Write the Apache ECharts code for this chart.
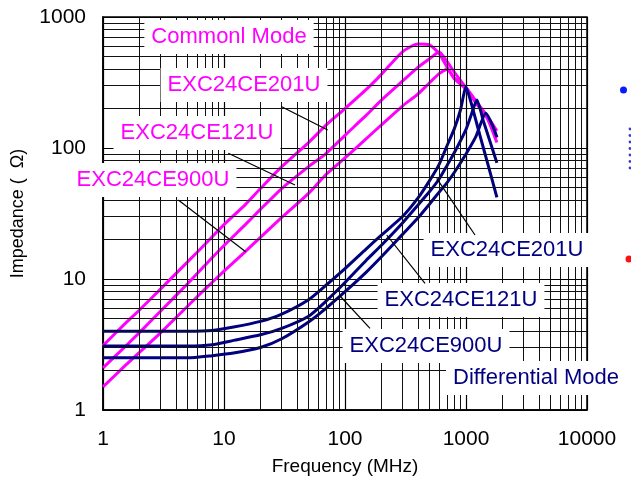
<!DOCTYPE html>
<html>
<head>
<meta charset="utf-8">
<script src="https://cdn.jsdelivr.net/npm/echarts@6/dist/echarts.min.js"></script>
<style>
html,body{margin:0;padding:0;background:#fff;}
#c{width:631px;height:482px;}
</style>
</head>
<body>
<div id="c"></div>
<script>
// ---- data ----
var xTicks = [1, 10, 100, 1000, 10000];
var yTicks = [1, 10, 100, 1000];

// Common mode (magenta)
var cmFreq   = [1,1.5,2,3,5,7,10,15,20,30,50,70,100,150,200,300,400,500,600,700,800,1000,1200,1500,1800];
var cm201U   = [3.1,4.5,5.8,8.4,13.5,18.5,26,37,49,72,110,150,200,280,365,545,622,612,525,412,343,290,230,175,135];
var cm121U   = [2.1,3.0,3.9,5.7,9.2,12.8,18,26,34,49,72,91,125,178,232,325,412,480,540,455,380,288,228,172,120];
var cm900U   = [1.5,2.15,2.75,3.9,6.2,8.4,11.5,16.2,20.8,29.5,45,63,84,118,150,210,258,315,370,400,338,282,222,168,110];

// Differential mode (navy)
var dm201Freq = [1,2,5,8,12,20,30,50,70,100,150,200,300,400,500,600,700,800,900,1000,1100,1300,1500,1800];
var dm201U    = [4.0,4.0,4.0,4.05,4.3,4.75,5.4,6.95,9.0,12.0,17.0,21.6,30.1,41.4,56.4,75,105,140,195,292,223,126,78,42];
var dm121Freq = [1,2,5,8,12,20,30,50,70,100,150,200,300,400,500,600,700,800,1000,1100,1230,1400,1600,1800];
var dm121U    = [3.08,3.08,3.08,3.15,3.4,3.75,4.2,5.2,6.8,9.4,13.9,18.1,26.9,36.6,46.5,58,74,92,139,177,232,158,108,77];
var dm900Freq = [1,2,5,8,12,20,30,50,70,100,150,200,300,400,500,600,700,800,1000,1200,1460,1650,1800];
var dm900U    = [2.5,2.5,2.5,2.6,2.72,3.0,3.5,4.7,6.0,8.0,11.3,14.8,22.0,29.2,37.4,46,54.7,65,90,121,184,150,121];

var seriesNames = ['EXC24CE201U','EXC24CE121U','EXC24CE900U'];

// ---- build ----
function pairs(fs, zs){ return fs.map(function(f,i){ return [f, zs[i]]; }); }

// minor log grid positions (2..9 in each decade)
function minorLines(lo, hi){
  var out = [];
  for (var d = lo; d < hi; d *= 10) for (var k = 2; k <= 9; k++) out.push(d*k);
  return out;
}
var gridMarks = [];
minorLines(1, 10000).forEach(function(v){ gridMarks.push({xAxis: v}); });
minorLines(1, 1000).forEach(function(v){ gridMarks.push({yAxis: v}); });

var FONT = '"Liberation Sans", Arial, Helvetica, sans-serif';
var MAG = '#FF00FF', NAVY = '#000080';

function curve(name, data, color){
  return {
    name: name, type: 'line', data: data, showSymbol: false, symbol: 'none',
    smooth: 0.2, lineStyle: {color: color, width: 3}, itemStyle: {color: color},
    silent: true, animation: false, z: 3
  };
}

var chart = echarts.init(document.getElementById('c'));
var opt = {
  backgroundColor: '#fff',
  animation: false,
  grid: {left: 103, right: 44, top: 17, bottom: 72, show: true, borderColor: '#000', borderWidth: 1.5, backgroundColor: 'transparent'},
  xAxis: {
    type: 'log', logBase: 10, min: xTicks[0], max: xTicks[xTicks.length-1],
    name: 'Frequency (MHz)', nameLocation: 'middle', nameGap: 47,
    nameTextStyle: {fontFamily: FONT, fontSize: 19, color: '#000'},
    axisLine: {show: true, lineStyle: {color: '#000', width: 1.5}},
    axisTick: {show: false},
    axisLabel: {fontFamily: FONT, fontSize: 21, color: '#000', margin: 19,
      formatter: function(v){ return String(Math.round(v)); }},
    splitLine: {show: true, lineStyle: {color: '#000', width: 1.2}},
    minorTick: {show: false}, minorSplitLine: {show: false}
  },
  yAxis: {
    type: 'log', logBase: 10, min: yTicks[0], max: yTicks[yTicks.length-1],
    name: 'Impedance (  \u03A9)', nameLocation: 'middle', nameGap: 76, nameRotate: 90,
    nameTextStyle: {fontFamily: FONT, fontSize: 18, color: '#000'},
    axisLine: {show: true, lineStyle: {color: '#000', width: 1.5}},
    axisTick: {show: false},
    axisLabel: {fontFamily: FONT, fontSize: 21, color: '#000', margin: 17,
      formatter: function(v){ return String(Math.round(v)); }},
    splitLine: {show: true, lineStyle: {color: '#000', width: 1.2}},
    minorTick: {show: false}, minorSplitLine: {show: false}
  },
  series: [
    {
      name: 'grid', type: 'line', data: [[1, 1]], showSymbol: false, symbol: 'none',
      lineStyle: {opacity: 0}, silent: true, z: 1,
      markLine: {silent: true, symbol: 'none', animation: false, label: {show: false},
        lineStyle: {color: '#111', width: 1, type: 'solid'}, data: gridMarks}
    },
    curve('CM ' + seriesNames[0], pairs(cmFreq, cm201U), MAG),
    curve('CM ' + seriesNames[1], pairs(cmFreq, cm121U), MAG),
    curve('CM ' + seriesNames[2], pairs(cmFreq, cm900U), MAG),
    curve('DM ' + seriesNames[0], pairs(dm201Freq, dm201U), NAVY),
    curve('DM ' + seriesNames[1], pairs(dm121Freq, dm121U), NAVY),
    curve('DM ' + seriesNames[2], pairs(dm900Freq, dm900U), NAVY)
  ]
};

// annotations (label boxes + leader lines)
function label(text, cx, cy, color){
  return {type: 'text', x: cx, y: cy, z: 100,
    style: {text: text, fill: color, font: '22px ' + FONT, textAlign: 'center', textVerticalAlign: 'middle',
      backgroundColor: '#fff', padding: [6, 7]}};
}
function leader(x1, y1, x2, y2){
  return {type: 'line', z: 101, shape: {x1: x1, y1: y1, x2: x2, y2: y2}, style: {stroke: '#000', lineWidth: 1.2}};
}
function dot(x, y, r, color){
  return {type: 'circle', z: 100, shape: {cx: x, cy: y, r: r}, style: {fill: color}};
}
var gfx = [
  label('Commonl Mode', 229, 37, MAG),
  label(seriesNames[0], 244, 85, MAG),
  label(seriesNames[1], 197, 133, MAG),
  label(seriesNames[2], 153, 180, MAG),
  label(seriesNames[0], 507, 250, NAVY),
  label(seriesNames[1], 461, 300, NAVY),
  label(seriesNames[2], 426, 346, NAVY),
  label('Differential Mode', 536, 378, NAVY),
  leader(281.7, 106.7, 327.7, 130),
  leader(228.3, 153.3, 295, 185),
  leader(178.3, 200, 245.7, 251.7),
  leader(475, 235, 436.7, 178.3),
  leader(425, 283.3, 386.7, 235),
  leader(370, 328.3, 340, 296),
  dot(623.5, 90, 3.5, '#0a1aff'),
  dot(629, 259, 3.5, '#ff1010')
];
for (var yy = 129; yy <= 168; yy += 6.5) gfx.push(dot(630, yy, 1.4, '#3b3bd0'));
opt.graphic = gfx;

chart.setOption(opt);
</script>
</body>
</html>
